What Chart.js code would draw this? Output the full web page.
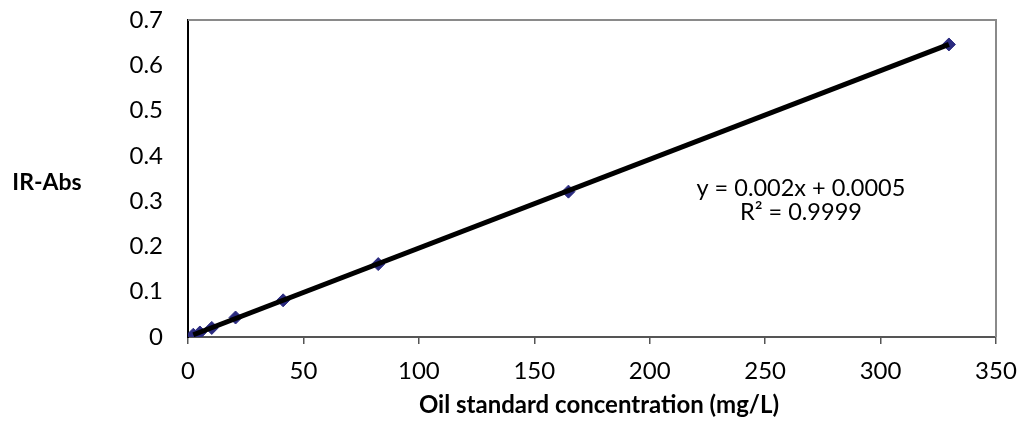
<!DOCTYPE html>
<html>
<head>
<meta charset="utf-8">
<script src="https://cdn.jsdelivr.net/npm/chart.js@4"></script>
<style>
  html, body { margin: 0; padding: 0; background: #fff; }
  #wrap { width: 1018px; height: 421px; }
</style>
</head>
<body>
<div id="wrap"><canvas id="oilChart" width="1018" height="421"></canvas></div>
<script>
// calibration points
const concentration = [2.3, 5.15, 10.3, 20.6, 41.2, 82.4, 164.8, 329.6];
const absorbance = [0.005, 0.010, 0.020, 0.043, 0.081, 0.161, 0.321, 0.646];

// linear trendline end points (Excel style, spans the data range)
const trendX = [2.3, 329.6];
const trendY = [0.005, 0.646];

const xTicks = [0, 50, 100, 150, 200, 250, 300, 350];
const yTicks = [0, 0.1, 0.2, 0.3, 0.4, 0.5, 0.6, 0.7];

const xTitle = 'Oil standard concentration (mg/L)';
const yTitle = 'IR-Abs';
const eqLines = ['y = 0.002x + 0.0005', 'R\u00b2 = 0.9999'];
const eqAnchor = [265.5, 0.311]; // where Excel left the label, in data units

const FONT = 'Lato, "Open Sans", sans-serif';

// frame + free text, like the excel chart
const extras = {
    id: 'extras',
    beforeDatasetsDraw(chart) {
        const { ctx, chartArea: a } = chart;
        ctx.save();
        ctx.strokeStyle = '#8a8a8a';
        ctx.lineWidth = 2;
        ctx.beginPath();
        ctx.moveTo(a.left, a.top);
        ctx.lineTo(a.right, a.top);
        ctx.lineTo(a.right, a.bottom);
        ctx.stroke();
        ctx.restore();
    },
    afterDraw(chart) {
        const { ctx, chartArea: a, scales } = chart;
        ctx.save();
        ctx.fillStyle = '#000';
        ctx.textBaseline = 'alphabetic';

        ctx.font = 'bold 23px ' + FONT;
        ctx.textAlign = 'center';
        ctx.fillText(yTitle, 47, (a.top + a.bottom) / 2 + 11);
        ctx.font = 'bold 24px ' + FONT;
        ctx.fillText(xTitle, (a.left + a.right) / 2 + 7, a.bottom + 76);

        ctx.font = '23.5px ' + FONT;
        const ex = scales.x.getPixelForValue(eqAnchor[0]);
        const ey = scales.y.getPixelForValue(eqAnchor[1]);
        eqLines.forEach((t, i) => ctx.fillText(t, ex, ey + i * 24));
        ctx.restore();
    }
};

// keep tick labels from pushing the plot area around
const noOverflow = s => {
    s.paddingTop = 0;
    s.paddingBottom = 0;
    s.paddingLeft = 0;
    s.paddingRight = 0;
};

const ctx = document.getElementById('oilChart');

new Chart(ctx, {
    type: 'scatter',
    data: {
        datasets: [
            {
                label: 'Linear trend',
                type: 'line',
                data: trendX.map((x, i) => ({ x: x, y: trendY[i] })),
                borderColor: '#000',
                borderWidth: 5,
                pointRadius: 0,
                fill: false,
            },
            {
                label: 'IR-Abs',
                data: concentration.map((x, i) => ({ x: x, y: absorbance[i] })),
                pointStyle: 'rectRot',
                pointRadius: 6.5,
                pointHoverRadius: 6.5,
                backgroundColor: '#2b2b80',
                borderColor: '#2b2b80',
                borderWidth: 1,
            },
        ],
    },
    options: {
        responsive: false,
        animation: false,
        layout: { padding: { left: 0, right: 22, top: 20, bottom: 0 } },
        plugins: {
            legend: { display: false },
            tooltip: { enabled: false },
        },
        scales: {
            x: {
                type: 'linear',
                min: 0,
                max: 350,
                afterFit: s => { s.height = 84; noOverflow(s); },
                afterBuildTicks: s => { s.ticks = xTicks.map(v => ({ value: v })); },
                grid: {
                    display: true,
                    drawOnChartArea: false,
                    drawTicks: true,
                    tickLength: 7,
                    color: '#555',
                    lineWidth: 1.5,
                },
                border: { display: true, color: '#555', width: 2 },
                ticks: {
                    color: '#000',
                    padding: 13,
                    maxRotation: 0,
                    font: { family: FONT, size: 24 },
                },
            },
            y: {
                type: 'linear',
                min: 0,
                max: 0.7,
                afterFit: s => { s.width = 188; noOverflow(s); },
                afterBuildTicks: s => { s.ticks = yTicks.map(v => ({ value: v })); },
                grid: { display: false, drawTicks: false },
                border: { display: true, color: '#000', width: 2 },
                ticks: {
                    color: '#000',
                    padding: 25,
                    font: { family: FONT, size: 24 },
                    callback: v => String(Math.round(v * 10) / 10),
                },
            },
        },
    },
    plugins: [extras],
});
</script>
</body>
</html>
